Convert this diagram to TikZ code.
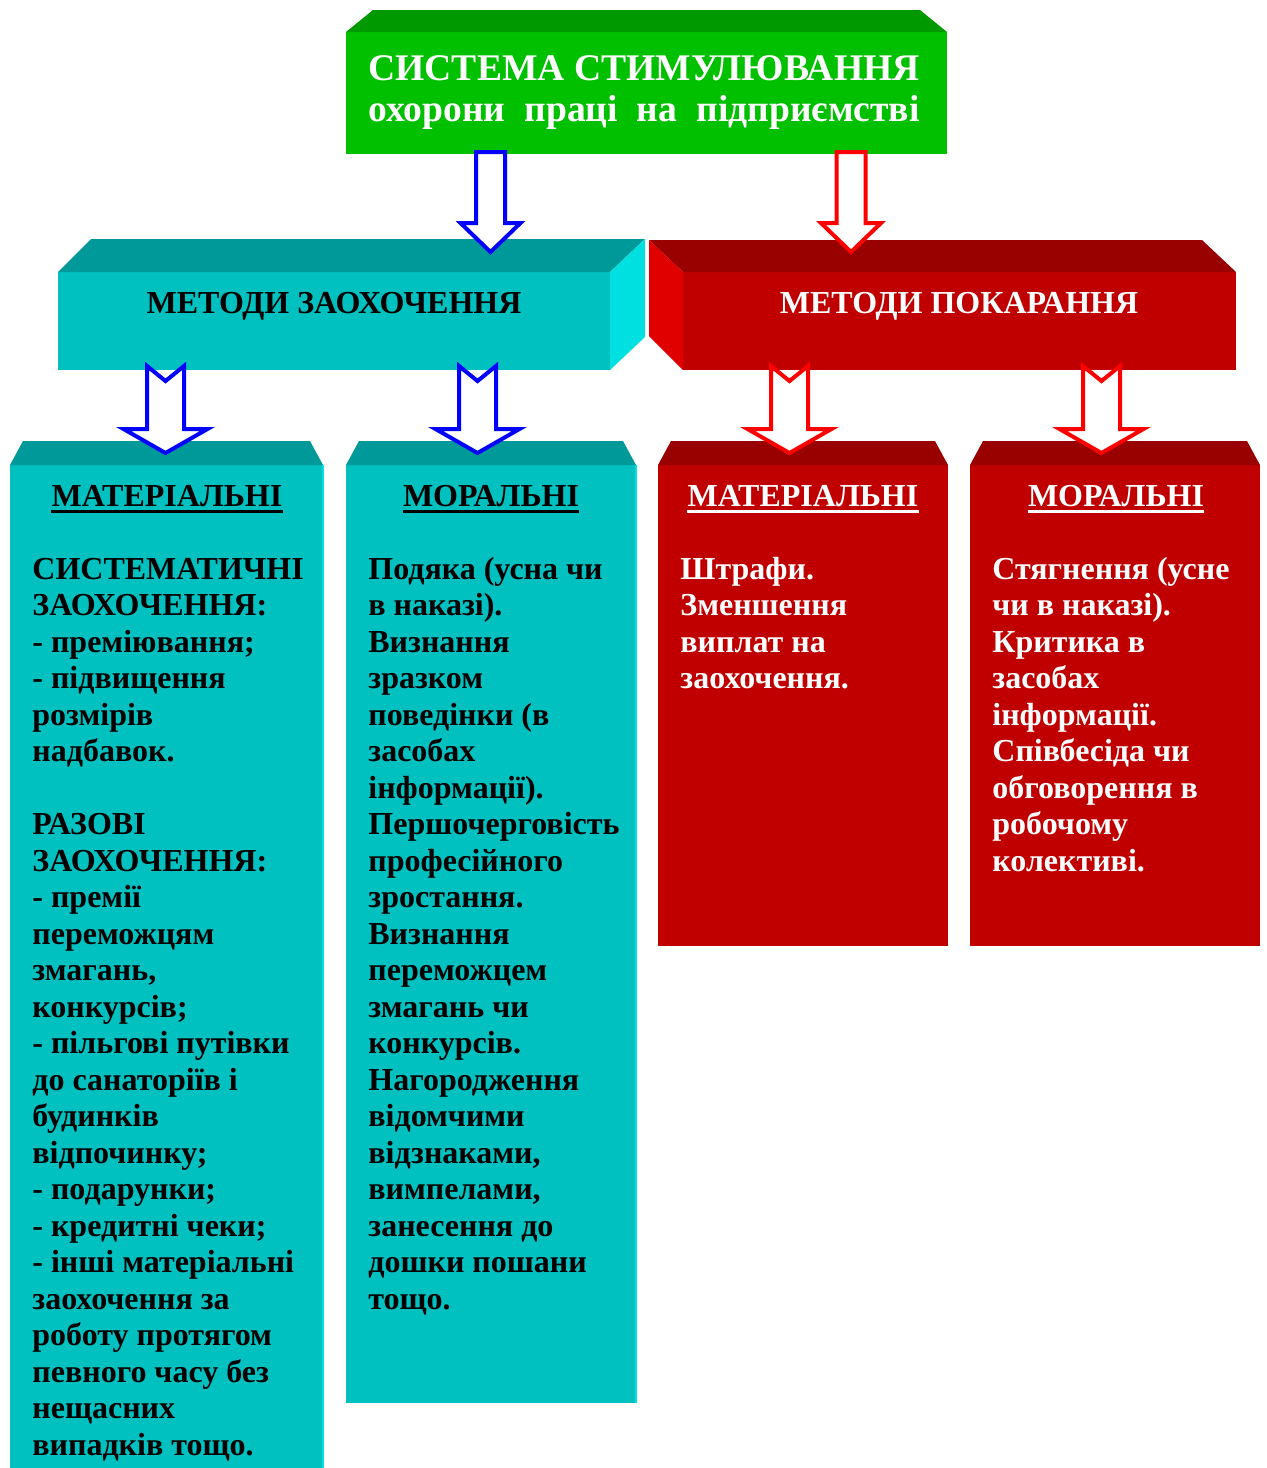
\documentclass[tikz,border=0pt]{standalone}
\usepackage{fontspec}
\setmainfont{Liberation Serif}
\usetikzlibrary{calc}
\definecolor{gfront}{HTML}{00C000}
\definecolor{gtop}{HTML}{009900}
\definecolor{tfront}{HTML}{00C0C0}
\definecolor{ttop}{HTML}{009999}
\definecolor{tside}{HTML}{00E0E0}
\definecolor{rfront}{HTML}{C00000}
\definecolor{rtop}{HTML}{990000}
\definecolor{rside}{HTML}{E00000}
\definecolor{ablue}{HTML}{0000FF}
\definecolor{ared}{HTML}{FF0000}
\newsavebox\titlebox
\newcommand\myblockarrow[7]{%
  \draw[barrow, draw=#1] (#2) ++(-#3,0) -- ++(#3,#4) -- ++(#3,-#4) -- ++(0,#5)
    -- ++({#6-#3},0) -- ++(-#6,#7) -- ++(-#6,-#7) -- ++({#6-#3},0) -- cycle;}
\newcommand\mylines[1]{\begin{tabular}[t]{@{}l@{}}#1\end{tabular}}
\tikzset{
  face/.style={inner sep=0pt, outer sep=0pt, anchor=north west},
  body/.style={inner sep=0pt, anchor=base west, font=\bfseries\fontsize{16}{18.25}\selectfont},
  head/.style={inner sep=0pt, anchor=base, font=\bfseries\fontsize{16}{19}\selectfont},
  barrow/.style={line width=2pt, fill=white, line join=miter, miter limit=10},
}
\begin{document}
\begin{tikzpicture}[x=0.5pt,y=-0.5pt]
\useasboundingbox[fill=white] (0,0) rectangle (1267,1468);

% top box
\node[face, fill=gfront, minimum width=300.5pt, minimum height=61pt] (sys) at (346,32) {};
\fill[gtop] (sys.north west) -- ++(27,-22) -- ($(sys.north east)+(-27,-22)$) -- (sys.north east) -- cycle;
\node[inner sep=0pt, anchor=base west, text=white, font=\bfseries\fontsize{18.8}{22}\selectfont] (t1) at (368,80)
  {\sbox\titlebox{СИСТЕМА СТИМУЛЮВАННЯ}\usebox\titlebox};
\node[inner sep=0pt, anchor=base west, text=white, font=\bfseries\fontsize{18.8}{22}\selectfont] (t2) at (368,121)
  {\sbox\titlebox{СИСТЕМА СТИМУЛЮВАННЯ}\makebox[\wd\titlebox][s]{охорони праці на підприємстві}};

% middle teal box
\node[face, fill=tfront, minimum width=276pt, minimum height=49pt] (mz) at (58,272) {};
\fill[ttop] (mz.north west) -- ++(33,-33) -- ($(mz.north east)+(35,-33)$) -- (mz.north east) -- cycle;
\fill[tside] (mz.north east) -- ++(35,-33) -- ($(mz.south east)+(35,-33)$) -- (mz.south east) -- cycle;
\node[head] (mzt) at (334,313) {МЕТОДИ ЗАОХОЧЕННЯ};

% middle red box
\node[face, fill=rfront, minimum width=276.5pt, minimum height=49pt] (mp) at (683,272) {};
\fill[rtop] (mp.north west) -- ++(-34,-32) -- ($(mp.north east)+(-34,-32)$) -- (mp.north east) -- cycle;
\fill[rside] (mp.north west) -- ++(-34,-32) -- ($(mp.south west)+(-34,-34)$) -- (mp.south west) -- cycle;
\node[head, text=white] (mpt) at (959,313) {МЕТОДИ ПОКАРАННЯ};

% bottom boxes
\node[face, fill=tfront, minimum width=156.5pt, minimum height=501.5pt] (b1) at (10,465) {};
\node[face, fill=tfront, minimum width=145pt, minimum height=469pt] (b2) at (346,465) {};
\node[face, fill=rfront, minimum width=145pt, minimum height=240.5pt] (b3) at (658,465) {};
\node[face, fill=rfront, minimum width=145pt, minimum height=240.5pt] (b4) at (970,465) {};
\foreach \b/\c in {b1/ttop, b2/ttop, b3/rtop, b4/rtop}{
  \fill[\c] (\b.north west) -- ++(13,-24) -- ($(\b.north east)+(-13,-24)$) -- (\b.north east) -- cycle;
}
\draw[tside, line width=0.8pt] (b1.north east) -- (b1.south east);
\draw[tside, line width=0.8pt] (b2.north east) -- (b2.south east);

% headings
\node[head] (h1) at (167,506) {МАТЕРІАЛЬНІ};
\node[head] (h2) at (491,506) {МОРАЛЬНІ};
\node[head, text=white] (h3) at (803,506) {МАТЕРІАЛЬНІ};
\node[head, text=white] (h4) at (1116,506) {МОРАЛЬНІ};
\draw[black, line width=1.5pt] ($(h1.base west)+(0,5)$) -- ($(h1.base east)+(0,5)$);
\draw[black, line width=1.5pt] ($(h2.base west)+(0,5)$) -- ($(h2.base east)+(0,5)$);
\draw[white, line width=1.5pt] ($(h3.base west)+(0,5)$) -- ($(h3.base east)+(0,5)$);
\draw[white, line width=1.5pt] ($(h4.base west)+(0,5)$) -- ($(h4.base east)+(0,5)$);

% body texts
\node[body] (x1) at (32,579) {\mylines{СИСТЕМАТИЧНІ\\ЗАОХОЧЕННЯ:\\- преміювання;\\- підвищення\\розмірів\\надбавок.\\ \\РАЗОВІ\\ЗАОХОЧЕННЯ:\\- премії\\переможцям\\змагань,\\конкурсів;\\- пільгові путівки\\до санаторіїв і\\будинків\\відпочинку;\\- подарунки;\\- кредитні чеки;\\- інші матеріальні\\заохочення за\\роботу протягом\\певного часу без\\нещасних\\випадків тощо.}};
\node[body] (x2) at (368,579) {\mylines{Подяка (усна чи\\в наказі).\\Визнання\\зразком\\поведінки (в\\засобах\\інформації).\\Першочерговість\\професійного\\зростання.\\Визнання\\переможцем\\змагань чи\\конкурсів.\\Нагородження\\відомчими\\відзнаками,\\вимпелами,\\занесення до\\дошки пошани\\тощо.}};
\node[body, text=white] (x3) at (680,579) {\mylines{Штрафи.\\Зменшення\\виплат на\\заохочення.}};
\node[body, text=white] (x4) at (992,579) {\mylines{Стягнення (усне\\чи в наказі).\\Критика в\\засобах\\інформації.\\Співбесіда чи\\обговорення в\\робочому\\колективі.}};

% arrows
\coordinate (aT1) at (490.5,152);
\coordinate (aT2) at (851,152);
\coordinate (aB1) at (165.5,366);
\coordinate (aB2) at (477.5,366);
\coordinate (aB3) at (789.5,366);
\coordinate (aB4) at (1101.5,366);
\myblockarrow{ablue}{aT1}{14.5}{0}{71}{30}{29}
\myblockarrow{ared}{aT2}{14.5}{0}{71}{30}{29}
\myblockarrow{ablue}{aB1}{18.5}{15}{63}{42}{24}
\myblockarrow{ablue}{aB2}{18.5}{15}{63}{42}{24}
\myblockarrow{ared}{aB3}{18.5}{15}{63}{42}{24}
\myblockarrow{ared}{aB4}{18.5}{15}{63}{42}{24}
\end{tikzpicture}
\end{document}
